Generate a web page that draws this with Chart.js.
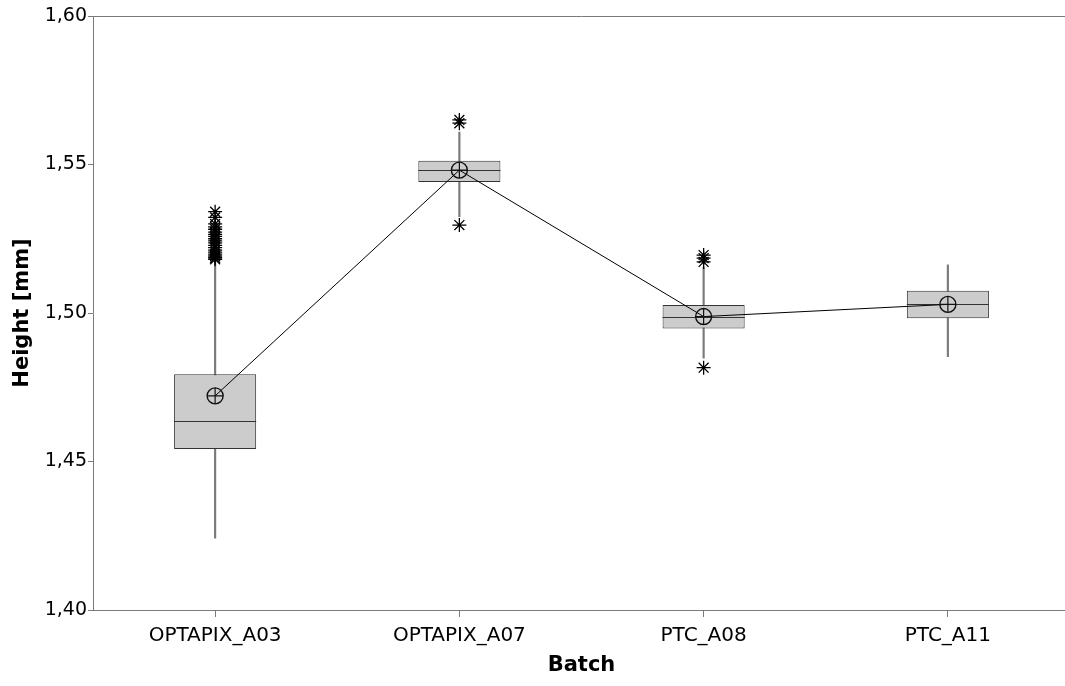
<!DOCTYPE html>
<html>
<head>
<meta charset="utf-8">
<script src="https://cdn.jsdelivr.net/npm/chart.js@4"></script>
<style>
  html, body { margin: 0; padding: 0; background: #fff; overflow: hidden; }
  #wrap { position: absolute; left: 0; top: 0; }
</style>
</head>
<body>
<div id="wrap"><canvas id="chart" width="1070" height="686"></canvas></div>
<script>
// Box plot of height per batch
const batches = ['OPTAPIX_A03', 'OPTAPIX_A07', 'PTC_A08', 'PTC_A11'];
const q1 = [1.4542, 1.5441, 1.4948, 1.4982];
const medians = [1.4637, 1.5481, 1.4988, 1.5029];
const q3 = [1.4794, 1.5513, 1.5027, 1.5075];
const whiskerLow = [1.4242, 1.5324, 1.4848, 1.4853];
const whiskerHigh = [1.5178, 1.5609, 1.5155, 1.5162];
const means = [1.4721, 1.5481, 1.4988, 1.5029];
const outliersA03 = [1.5341, 1.5322, 1.5300, 1.5290, 1.5282, 1.5272, 1.5265, 1.5258, 1.5250,
                     1.5243, 1.5236, 1.5228, 1.5220, 1.5212, 1.5205, 1.5198, 1.5192, 1.5186, 1.5181];
const outliersA07 = [1.5650, 1.5639, 1.5296];
const outliersA08 = [1.5195, 1.5185, 1.5172, 1.4816];
const outliersA11 = [];
const yTicks = [1.40, 1.45, 1.50, 1.55, 1.60];

const FONT = 'DejaVu Sans';
const axisColor = '#7a7a7a';

const outlierPoints = [];
[outliersA03, outliersA07, outliersA08, outliersA11].forEach((list, i) => {
    list.forEach(v => outlierPoints.push({ x: batches[i], y: v }));
});

// draws median lines right after the boxes, plus the top frame line
const boxExtras = {
    id: 'boxExtras',
    afterDatasetDraw(chart, args) {
        if (args.index !== 1) return;
        const ctx = chart.ctx;
        const y = chart.scales.y;
        const bars = args.meta.data;
        ctx.save();
        ctx.strokeStyle = '#333333';
        ctx.lineWidth = 1;
        bars.forEach((bar, i) => {
            const py = Math.round(y.getPixelForValue(medians[i])) + 0.5;
            ctx.beginPath();
            ctx.moveTo(bar.x - bar.width / 2, py);
            ctx.lineTo(bar.x + bar.width / 2, py);
            ctx.stroke();
        });
        ctx.restore();
    },
    afterDraw(chart) {
        const ctx = chart.ctx;
        const a = chart.chartArea;
        ctx.save();
        ctx.strokeStyle = axisColor;
        ctx.lineWidth = 1;
        ctx.beginPath();
        ctx.moveTo(a.left, a.top + 0.5);
        ctx.lineTo(a.right, a.top + 0.5);
        ctx.stroke();
        ctx.restore();
    }
};

new Chart(document.getElementById('chart'), {
    type: 'bar',
    data: {
        labels: batches,
        datasets: [
            {
                label: 'whiskers',
                data: batches.map((b, i) => [whiskerLow[i], whiskerHigh[i]]),
                backgroundColor: '#7a7a7a',
                borderWidth: 0,
                barThickness: 1.5,
                grouped: false,
                order: 5
            },
            {
                label: 'boxes',
                data: batches.map((b, i) => [q1[i], q3[i]]),
                backgroundColor: '#cccccc',
                borderColor: '#333333',
                borderWidth: 1,
                borderSkipped: false,
                categoryPercentage: 1,
                barPercentage: 0.336,
                grouped: false,
                order: 4
            },
            {
                type: 'line',
                label: 'outliers',
                data: outlierPoints,
                showLine: false,
                pointStyle: 'star',
                pointRadius: 7,
                pointBorderColor: '#000000',
                pointBackgroundColor: '#000000',
                pointBorderWidth: 1.3,
                order: 3
            },
            {
                type: 'line',
                label: 'mean',
                data: means,
                borderColor: '#000000',
                borderWidth: 1,
                tension: 0,
                pointStyle: 'circle',
                pointRadius: 8,
                pointBorderColor: '#111111',
                pointBackgroundColor: 'rgba(0,0,0,0)',
                pointBorderWidth: 1.4,
                order: 2
            },
            {
                type: 'line',
                label: 'mean cross',
                data: means,
                showLine: false,
                pointStyle: 'cross',
                pointRadius: 8,
                pointBorderColor: '#111111',
                pointBorderWidth: 1.2,
                order: 1
            }
        ]
    },
    options: {
        responsive: false,
        animation: false,
        layout: { autoPadding: false, padding: { top: 16, right: 0, left: 0, bottom: 0 } },
        plugins: {
            legend: { display: false },
            tooltip: { enabled: false }
        },
        scales: {
            x: {
                offset: true,
                grid: { display: true, offset: false, drawOnChartArea: false, drawTicks: true, tickLength: 7, color: axisColor },
                border: { color: axisColor },
                ticks: { color: '#000', font: { family: FONT, size: 20 }, padding: 7, maxRotation: 0 },
                title: { display: true, text: 'Batch', color: '#000',
                         font: { family: FONT, size: 21, weight: 'bold' }, padding: { top: 0, bottom: 8 } },
                afterFit(scale) { scale.height = 76; }
            },
            y: {
                min: 1.40,
                max: 1.60,
                afterBuildTicks(scale) { scale.ticks = yTicks.map(v => ({ value: v })); },
                grid: { display: true, drawOnChartArea: false, drawTicks: true, tickLength: 5, color: axisColor },
                border: { color: axisColor },
                ticks: {
                    color: '#000',
                    font: { family: FONT, size: 19 },
                    padding: 1,
                    callback: (v) => v.toFixed(2).replace('.', ',')
                },
                title: { display: true, text: 'Height [mm]', color: '#000',
                         font: { family: FONT, size: 21, weight: 'bold' }, padding: { top: 10, bottom: 0 } },
                afterFit(scale) { scale.width = 93; }
            }
        }
    },
    plugins: [boxExtras]
});
</script>
</body>
</html>
